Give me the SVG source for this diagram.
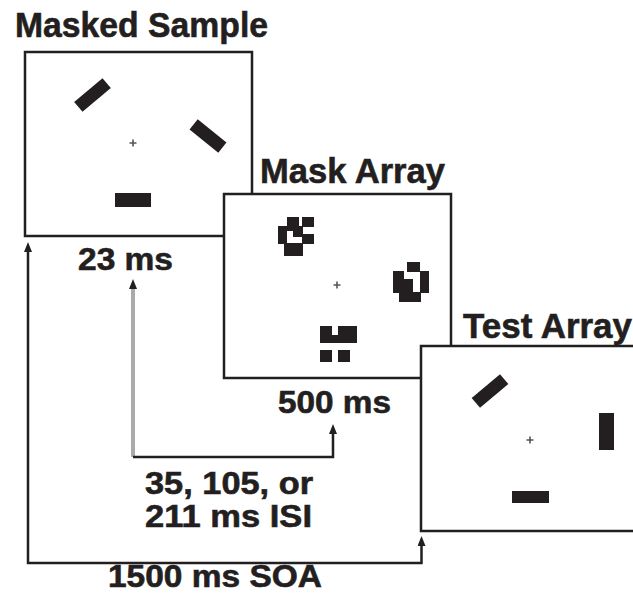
<svg xmlns="http://www.w3.org/2000/svg" width="633" height="594" viewBox="0 0 633 594">
  <style>
    .frame { fill: #fff; stroke: #231f20; stroke-width: 2.5; }
    .ink { fill: #231f20; }
    .fix { fill: none; stroke: #555; stroke-width: 1.6; }
    .title, .label { font-family: "Liberation Sans", Arial, Helvetica, sans-serif; font-weight: bold; fill: #231f20; stroke: #231f20; stroke-width: 0.6; }
    .title { font-size: 35px; }
    .label { font-size: 31px; }
    .link { fill: none; stroke: #231f20; stroke-width: 2.5; }
    .isi { fill: none; stroke: #aaa; stroke-width: 4; }
  </style>
  <defs>
    <marker id="tip" viewBox="0 0 10 8" refX="0" refY="4" markerWidth="10" markerHeight="8" markerUnits="userSpaceOnUse" orient="auto-start-reverse">
      <path d="M0,0 L10,4 L0,8 z" fill="#231f20"/>
    </marker>
  </defs>

  <!-- frame 1: the masked sample -->
  <g id="masked-sample">
    <text class="title" x="15" y="37" textLength="253" lengthAdjust="spacingAndGlyphs">Masked Sample</text>
    <rect class="frame" x="25" y="52" width="227" height="184"/>
    <rect class="ink" x="-18.5" y="-6.5" width="37" height="13" transform="translate(92.5,95) rotate(-40)"/>
    <rect class="ink" x="-18.5" y="-6.5" width="37" height="13" transform="translate(208,136) rotate(39)"/>
    <rect class="ink" x="115" y="193" width="36" height="14"/>
    <path class="fix" d="M129.5,143 h7 M133,139.5 v7"/>
    <text class="label" x="78" y="270" textLength="95" lengthAdjust="spacingAndGlyphs">23 ms</text>
  </g>

  <!-- frame 2: pattern masks -->
  <g id="mask-array">
    <text class="title" x="260" y="183" textLength="185" lengthAdjust="spacingAndGlyphs">Mask Array</text>
    <rect class="frame" x="224" y="194" width="227" height="184"/>
    <g class="ink">
      <!-- upper-left mask -->
      <rect x="287" y="217" width="12" height="10"/>
      <rect x="302" y="217" width="12" height="10"/>
      <rect x="278" y="226" width="9" height="18"/>
      <rect x="287" y="226" width="16" height="5"/>
      <rect x="293" y="231" width="10" height="6"/>
      <rect x="302" y="234" width="12" height="10"/>
      <rect x="284" y="243" width="19" height="13"/>
      <!-- right mask -->
      <rect x="407" y="262" width="13" height="10"/>
      <rect x="393" y="271" width="11" height="22"/>
      <rect x="403" y="279" width="10" height="14"/>
      <rect x="420" y="271" width="9" height="22"/>
      <rect x="399" y="292" width="22" height="10"/>
      <!-- lower mask -->
      <rect x="320" y="326" width="12" height="17"/>
      <rect x="331" y="335" width="8" height="8"/>
      <rect x="338" y="326" width="19" height="17"/>
      <rect x="320" y="350" width="12" height="12"/>
      <rect x="338" y="350" width="12" height="12"/>
    </g>
    <path class="fix" d="M333.5,285 h7 M337,281.5 v7"/>
    <text class="label" x="278" y="413" textLength="113" lengthAdjust="spacingAndGlyphs">500 ms</text>
  </g>

  <!-- frame 3: the test array -->
  <g id="test-array">
    <text class="title" x="463" y="338" textLength="169" lengthAdjust="spacingAndGlyphs">Test Array</text>
    <rect class="frame" x="421" y="346" width="240" height="185"/>
    <rect class="ink" x="-18.5" y="-6.5" width="37" height="13" transform="translate(490,391) rotate(-40)"/>
    <rect class="ink" x="599" y="413" width="15" height="37"/>
    <rect class="ink" x="512" y="491" width="37" height="12"/>
    <path class="fix" d="M526.5,440 h7 M530,436.5 v7"/>
  </g>

  <!-- timing connectors -->
  <g id="connectors">
    <path class="link" d="M28,252 V563 H421.5 V546" marker-start="url(#tip)" marker-end="url(#tip)"/>
    <path class="isi" d="M133,457 V289" marker-end="url(#tip)"/>
    <path class="link" d="M133,457 H333 V434" marker-end="url(#tip)"/>
    <text class="label" x="145" y="494" textLength="168" lengthAdjust="spacingAndGlyphs">35, 105, or</text>
    <text class="label" x="145" y="527" textLength="167" lengthAdjust="spacingAndGlyphs">211 ms ISI</text>
    <text class="label" x="108" y="587" textLength="214" lengthAdjust="spacingAndGlyphs">1500 ms SOA</text>
  </g>
</svg>
